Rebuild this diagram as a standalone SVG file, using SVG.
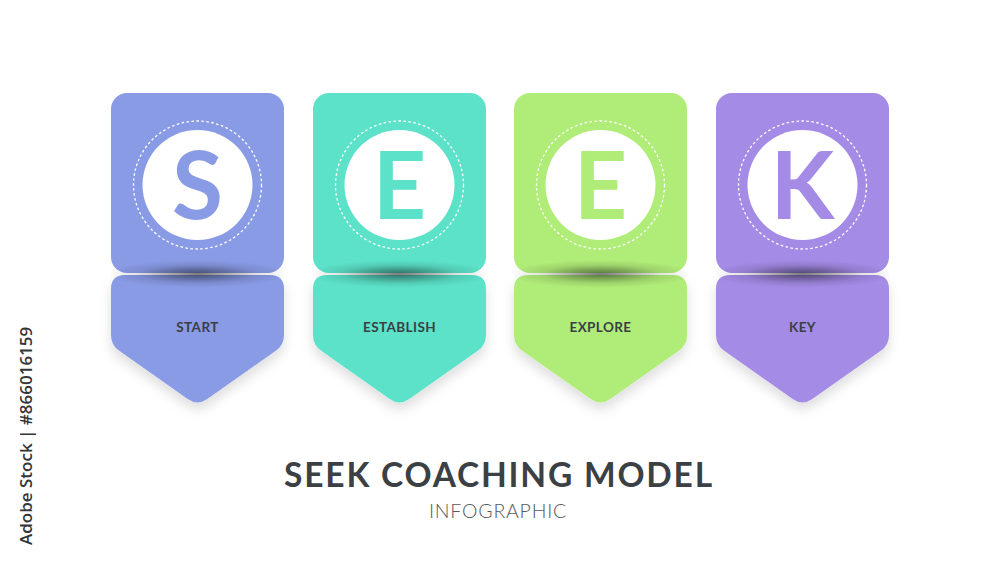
<svg xmlns="http://www.w3.org/2000/svg" width="1000" height="563" viewBox="0 0 1000 563">
  <defs>
    <style>
      .letter { font-family: "Lato", "Open Sans", "Liberation Sans", sans-serif; font-weight: 700; font-size: 93px; text-anchor: middle; }
      .label { font-family: "Lato", "Open Sans", "Liberation Sans", sans-serif; font-weight: 700; font-size: 13.5px; fill: #3a3f44; text-anchor: middle; letter-spacing: 0.4px; }
      .title { font-family: "Lato", "Open Sans", "Liberation Sans", sans-serif; font-weight: 700; font-size: 33.5px; fill: #3b4044; text-anchor: middle; letter-spacing: 1.8px; }
      .sub { font-family: "Lato", "Open Sans", "Liberation Sans", sans-serif; font-weight: 300; font-size: 19.5px; fill: #55595d; text-anchor: middle; letter-spacing: 0.8px; }
      .wm { font-family: "Open Sans", "Liberation Sans", sans-serif; font-weight: 600; font-size: 17px; fill: #333638; }
      .disc { fill: #ffffff; }
      .dash { fill: none; stroke: #ffffff; stroke-width: 1.3; stroke-dasharray: 2.6 2.4; }
    </style>
    <radialGradient id="fold" cx="0.5" cy="0.5" r="0.5">
      <stop offset="0" stop-color="#000" stop-opacity="0.6"/>
      <stop offset="0.3" stop-color="#000" stop-opacity="0.38"/>
      <stop offset="0.65" stop-color="#000" stop-opacity="0.12"/>
      <stop offset="1" stop-color="#000" stop-opacity="0"/>
    </radialGradient>
    <filter id="drop" x="-20%" y="-20%" width="140%" height="150%">
      <feDropShadow dx="0" dy="7" stdDeviation="6" flood-color="#000" flood-opacity="0.13"/>
    </filter>
    <clipPath id="cardclip">
      <rect x="0" y="150" width="173" height="60"/>
    </clipPath>
    <path id="arrow" d="M0,196 Q0,182 14,182 L159,182 Q173,182 173,196 L173,242 Q173,252 164.8,257.8 L96.3,306.1 Q86.5,313 76.7,306.1 L8.2,257.8 Q0,252 0,242 Z"/>
    <rect id="top" x="0" y="0" width="173" height="180" rx="16" ry="16"/>
    <ellipse id="foldshadow" cx="86.5" cy="181" rx="92" ry="14" fill="url(#fold)"/>
  </defs>

  <rect x="0" y="0" width="1000" height="563" fill="#ffffff"/>

  <g id="card-s" transform="translate(111,93)">
    <use href="#arrow" fill="#8a9be6" filter="url(#drop)"/>
    <use href="#top" fill="#8a9be6"/>
    <use href="#foldshadow" clip-path="url(#cardclip)" opacity="0.85"/>
    <circle class="dash" cx="86.5" cy="92" r="64"/>
    <circle class="disc" cx="86.5" cy="92" r="55"/>
    <text class="letter" x="86.5" y="126" fill="#8a9be6">S</text>
    <text class="label" x="86.5" y="239">START</text>
  </g>

  <g id="card-e1" transform="translate(313,93)">
    <use href="#arrow" fill="#5ce2c9" filter="url(#drop)"/>
    <use href="#top" fill="#5ce2c9"/>
    <use href="#foldshadow" clip-path="url(#cardclip)" opacity="0.85"/>
    <circle class="dash" cx="86.5" cy="92" r="64"/>
    <circle class="disc" cx="86.5" cy="92" r="55"/>
    <text class="letter" x="86.5" y="126" fill="#5ce2c9">E</text>
    <text class="label" x="86.5" y="239">ESTABLISH</text>
  </g>

  <g id="card-e2" transform="translate(514,93)">
    <use href="#arrow" fill="#b0ec78" filter="url(#drop)"/>
    <use href="#top" fill="#b0ec78"/>
    <use href="#foldshadow" clip-path="url(#cardclip)" opacity="0.85"/>
    <circle class="dash" cx="86.5" cy="92" r="64"/>
    <circle class="disc" cx="86.5" cy="92" r="55"/>
    <text class="letter" x="86.5" y="126" fill="#b0ec78">E</text>
    <text class="label" x="86.5" y="239">EXPLORE</text>
  </g>

  <g id="card-k" transform="translate(716,93)">
    <use href="#arrow" fill="#a48be6" filter="url(#drop)"/>
    <use href="#top" fill="#a48be6"/>
    <use href="#foldshadow" clip-path="url(#cardclip)" opacity="0.85"/>
    <circle class="dash" cx="86.5" cy="92" r="64"/>
    <circle class="disc" cx="86.5" cy="92" r="55"/>
    <text class="letter" x="86.5" y="126" fill="#a48be6">K</text>
    <text class="label" x="86.5" y="239">KEY</text>
  </g>

  <g id="title">
    <text class="title" x="499" y="487">SEEK COACHING MODEL</text>
    <text class="sub" x="498" y="518">INFOGRAPHIC</text>
  </g>

  <g id="watermark">
    <text class="wm" transform="translate(32,545) rotate(-90)">Adobe Stock | #866016159</text>
  </g>

  <g id="connectors"></g>
</svg>
